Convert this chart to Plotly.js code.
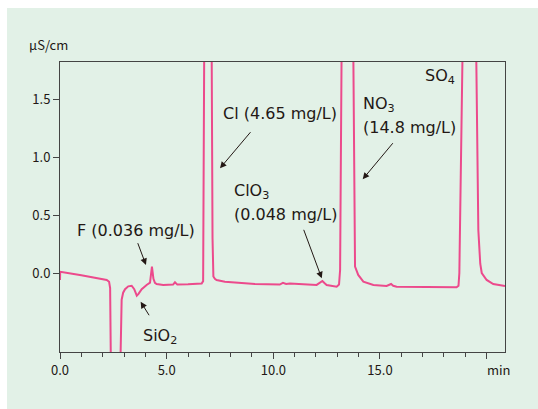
<!DOCTYPE html>
<html>
<head>
<meta charset="utf-8">
<script src="https://cdn.plot.ly/plotly-3.0.1.min.js"></script>
<style>
  html, body { margin: 0; padding: 0; background: #ffffff; width: 538px; height: 409px; overflow: hidden; }
  #chart { position: absolute; left: 7px; top: 8px; width: 531px; height: 401px; }
</style>
</head>
<body>
<div id="chart"></div>
<script>
// Retention time (min)
const timeMin = [0, 0.01, 1.0, 2.19, 2.30, 2.35, 2.38, 2.55, 2.84, 2.86, 2.89, 2.96, 3.05, 3.20, 3.36, 3.48, 3.60, 3.68, 3.83, 4.06, 4.22, 4.31, 4.38, 4.45, 4.53, 4.84, 5.30, 5.39, 5.50, 6.00, 6.64, 6.71, 6.76, 6.93, 7.11, 7.15, 7.19, 7.26, 7.34, 7.73, 9.14, 10.30, 10.45, 10.60, 10.78, 12.03, 12.20, 12.30, 12.42, 12.50, 12.97, 13.08, 13.13, 13.20, 13.47, 13.75, 13.83, 13.98, 14.22, 14.69, 15.31, 15.45, 15.52, 15.62, 15.78, 18.59, 18.68, 18.72, 18.87, 19.18, 19.50, 19.61, 19.70, 19.77, 20.00, 20.31, 20.86];
// Conductivity (µS/cm)
const conductivity = [-0.06, 0.01, -0.02, -0.06, -0.075, -0.13, -0.7, -2.0, -0.7, -0.4, -0.23, -0.17, -0.14, -0.115, -0.11, -0.14, -0.195, -0.18, -0.14, -0.103, -0.083, 0.055, -0.05, -0.085, -0.095, -0.103, -0.10, -0.08, -0.10, -0.097, -0.09, -0.07, 1.9, 5.0, 1.9, 0.3, -0.03, -0.05, -0.06, -0.075, -0.095, -0.10, -0.085, -0.095, -0.09, -0.103, -0.085, -0.069, -0.09, -0.103, -0.118, -0.10, 0.026, 1.9, 6.0, 1.9, 0.055, -0.017, -0.075, -0.103, -0.112, -0.10, -0.095, -0.11, -0.118, -0.123, -0.11, 0.0, 1.9, 7.0, 1.9, 0.37, 0.08, 0.0, -0.06, -0.095, -0.112];

const xTickVals = [0, 5, 10, 15, 20];
const xTickText = ['0.0', '5.0', '10.0', '15.0', ''];
const yTickVals = [0, 0.5, 1.0, 1.5];
const yTickText = ['0.0', '0.5', '1.0', '1.5'];

const FONT = '"Noto Sans CJK JP", "Noto Sans", sans-serif';
const LFONT = '"DejaVu Sans", sans-serif';
const TXT = '#231815';

const trace = {
  x: timeMin, y: conductivity, type: 'scatter', mode: 'lines',
  line: { color: '#ec4a8c', width: 2 }, hoverinfo: 'skip'
};

function label(x, y, text, xanchor) {
  return { x: x, y: y, xref: 'x', yref: 'y', text: text, showarrow: false,
           xanchor: xanchor || 'left', yanchor: 'middle',
           font: { family: LFONT, size: 16, color: TXT } };
}
function arrow(hx, hy, tx, ty) {
  return { x: hx, y: hy, ax: tx, ay: ty, xref: 'x', yref: 'y', axref: 'x', ayref: 'y',
           text: '', showarrow: true, arrowhead: 2, arrowsize: 1.3, arrowwidth: 1,
           arrowcolor: TXT, standoff: 0, startstandoff: 0 };
}

const layout = {
  width: 531, height: 401,
  margin: { l: 53, r: 33, t: 54, b: 57 },
  paper_bgcolor: '#e2f1e7', plot_bgcolor: '#e2f1e7',
  showlegend: false,
  font: { family: FONT, color: TXT, size: 13 },
  xaxis: {
    range: [0, 20.86], showgrid: false, zeroline: false,
    showline: true, linecolor: '#444', linewidth: 1, mirror: true,
    ticks: 'outside', ticklen: 6, tickwidth: 1, tickcolor: '#444',
    tickvals: xTickVals, ticktext: xTickText,
    minor: { dtick: 1, ticks: 'outside', ticklen: 4, tickwidth: 1, tickcolor: '#444', showgrid: false },
    tickfont: { family: FONT, size: 13, color: TXT }
  },
  yaxis: {
    range: [-0.681, 1.819], showgrid: false, zeroline: false,
    showline: true, linecolor: '#444', linewidth: 1, mirror: true,
    ticks: 'outside', ticklen: 6, tickwidth: 1, tickcolor: '#444',
    tickvals: yTickVals, ticktext: yTickText,
    tickfont: { family: FONT, size: 13, color: TXT }
  },
  annotations: [
    { x: -0.075, y: 1.059, xref: 'paper', yref: 'paper', text: 'μS/cm', showarrow: false,
      xanchor: 'left', yanchor: 'middle', font: { family: FONT, size: 13, color: TXT } },
    { x: 0.955, y: -0.062, xref: 'paper', yref: 'paper', text: 'min', showarrow: false,
      xanchor: 'left', yanchor: 'middle', font: { family: FONT, size: 13, color: TXT } },
    label(0.72, 0.37, 'F (0.036 mg/L)'),
    label(4.69, -0.549, 'SiO<sub>2</sub>', 'center'),
    label(7.55, 1.377, 'Cl (4.65 mg/L)'),
    label(8.05, 0.70, 'ClO<sub>3</sub>'),
    label(8.05, 0.505, '(0.048 mg/L)'),
    label(14.12, 1.45, 'NO<sub>3</sub>'),
    label(14.12, 1.256, '(14.8 mg/L)'),
    label(17.0, 1.69, 'SO<sub>4</sub>'),
    arrow(4.03, 0.069, 3.62, 0.27),
    arrow(3.78, -0.247, 4.22, -0.377),
    arrow(7.5, 0.903, 8.99, 1.227),
    arrow(12.27, -0.046, 11.4, 0.385),
    arrow(14.19, 0.808, 15.66, 1.132)
  ]
};

Plotly.newPlot('chart', [trace], layout, { displayModeBar: false, staticPlot: true });
</script>
</body>
</html>
